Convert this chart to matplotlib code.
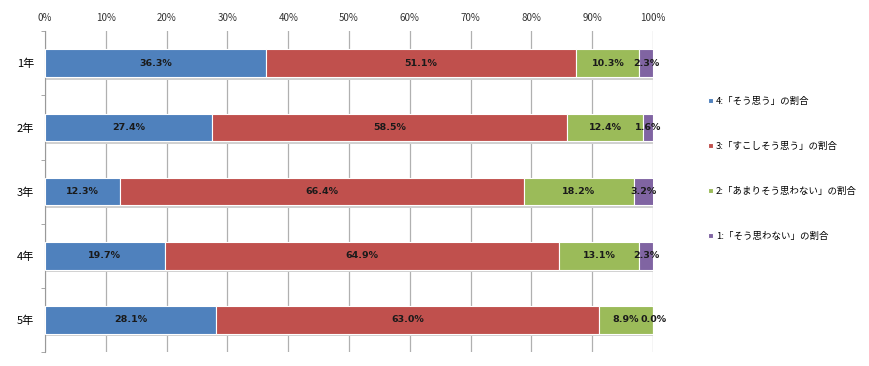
import matplotlib.pyplot as plt
import numpy as np

plt.rcParams['font.family'] = ['Noto Sans CJK JP', 'DejaVu Sans']

grades = ["1年", "2年", "3年", "4年", "5年"]
series = ["4:「そう思う」の割合", "3:「すこしそう思う」の割合",
          "2:「あまりそう思わない」の割合", "1:「そう思わない」の割合"]
v4 = [36.3, 27.4, 12.3, 19.7, 28.1]
v3 = [51.1, 58.5, 66.4, 64.9, 63.0]
v2 = [10.3, 12.4, 18.2, 13.1, 8.9]
v1 = [2.3, 1.6, 3.2, 2.3, 0.0]
colors = ["#4F81BD", "#C0504D", "#9BBB59", "#8064A2"]

fig = plt.figure(figsize=(8.7, 3.66), dpi=100)
ax = fig.add_axes([0.0517, 0.038, 0.699, 0.877])

y = np.arange(len(grades))
left = np.zeros(len(grades))
handles = []
for vals, col, name in zip([v4, v3, v2, v1], colors, series):
    vals = np.array(vals)
    # faint shadow under each bar, like the Excel original
    ax.barh(y + 0.04, vals, left=left, height=0.43, color="#d0d0d0", zorder=2)
    b = ax.barh(y, vals, left=left, height=0.43, color=col, edgecolor="white",
                linewidth=0.8, zorder=3, label=name)
    handles.append(b)
    for yi, l, v in zip(y, left, vals):
        ax.text(l + v / 2, yi, "%.1f%%" % v, ha="center", va="center",
                fontsize=6.8, fontweight="bold", color="#1a1a1a", zorder=4,
                family=["DejaVu Sans"])
    left = left + vals

ax.set_xlim(0, 100)
ax.set_ylim(4.5, -0.5)
ax.xaxis.tick_top()
ax.set_xticks(np.arange(0, 101, 10))
ax.set_xticklabels(["%d%%" % t for t in range(0, 101, 10)], fontsize=7)
ax.tick_params(axis="x", length=0, pad=6, colors="#333333")
ax.set_yticks(y)
ax.set_yticklabels(grades, fontsize=8)
ax.tick_params(axis="y", length=0, pad=8)
ax.set_yticks(np.arange(-0.5, 5, 1), minor=True)
ax.tick_params(axis="y", which="minor", length=3, color="#999999")
ax.grid(axis="x", color="#b0b0b0", linewidth=0.9, zorder=0)
for s in ["top", "right", "bottom"]:
    ax.spines[s].set_visible(False)
ax.spines["left"].set_color("#999999")

fig.legend(handles=handles, labels=series, loc="upper left",
           bbox_to_anchor=(0.81, 0.745), frameon=False, fontsize=6.8,
           handlelength=0.5, handleheight=0.5, handletextpad=0.3,
           labelspacing=3.8, borderaxespad=0)

fig.savefig("out.png", dpi=100)
